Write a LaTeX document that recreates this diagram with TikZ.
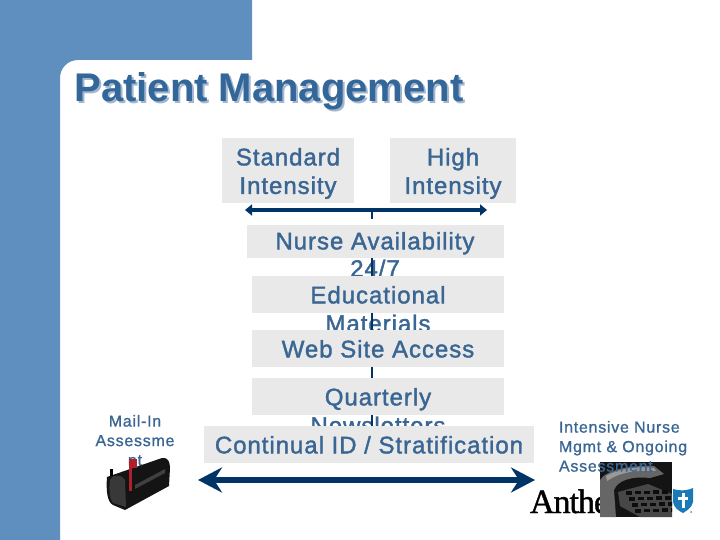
\documentclass[tikz,border=0pt]{standalone}
\usepackage{fontspec}
\usetikzlibrary{arrows.meta}
\setmainfont{Liberation Sans}
\newfontfamily\logofont[FakeBold=1.2,LetterSpace=-3]{Liberation Serif}
\newfontfamily\mainlblfont[FakeBold=1.6,LetterSpace=4]{Liberation Sans}
\newfontfamily\smalllblfont[FakeBold=1,LetterSpace=4.6]{Liberation Sans}
\definecolor{sidebar}{HTML}{5F8FBF}
\definecolor{txtblue}{HTML}{3A6694}
\definecolor{titleblue}{HTML}{336699}
\definecolor{navy}{HTML}{003366}
\definecolor{boxgrey}{HTML}{E9E9E9}
\definecolor{shadowblue}{HTML}{A3B6CE}
\definecolor{shieldblue}{HTML}{1A7AB8}
\definecolor{flagred}{HTML}{B0202A}
\tikzset{
  x=1pt,y=-1pt,
  boxn/.style={fill=boxgrey,inner sep=0pt,outer sep=0pt,anchor=north west},
  lbl/.style={text=txtblue,inner sep=0pt,outer sep=0pt,align=center,anchor=north,font=\mainlblfont\fontsize{24}{28.5}\selectfont},
  smalllbl/.style={text=txtblue,inner sep=0pt,outer sep=0pt,font=\smalllblfont\fontsize{16}{19.5}\selectfont},
  titlelbl/.style={inner sep=0pt,outer sep=0pt,anchor=north west,font=\bfseries\fontsize{40}{44}\selectfont},
  conn/.style={draw=navy,line width=1.6pt},
  thinarrow/.style={draw=navy,line width=3.2pt,{Stealth[length=7pt,width=11pt,inset=0pt]}-{Stealth[length=7pt,width=11pt,inset=0pt]}},
  bigarrow/.style={draw=navy,line width=6pt,{Stealth[length=24pt,width=25pt,inset=8pt]}-{Stealth[length=24pt,width=25pt,inset=8pt]}}
}
\begin{document}
\begin{tikzpicture}
\useasboundingbox (0,0) rectangle (720,540);
\fill[white] (0,0) rectangle (720,540);
% sidebar with rounded inner corner
\fill[sidebar] (0,0) -- (252,0) -- (252,60) -- (78,60) .. controls (68,60) and (60,68) .. (60,78) -- (60,540) -- (0,540) -- cycle;
% title
\node[titlelbl,text=shadowblue] at (76.5,75) {Patient Management};
\node[titlelbl,text=titleblue] (title) at (74.5,73) {Patient Management};
% intensity boxes
\node[boxn,minimum width=132pt,minimum height=65pt] (std) at (222,138) {};
\node[lbl] (stdT) at (288,148) {Standard\\Intensity};
\node[boxn,minimum width=126pt,minimum height=65pt] (high) at (390,138) {};
\node[lbl] (highT) at (453,148) {High\\Intensity};
% thin arrow
\coordinate (thinL) at (245,210);
\coordinate (thinR) at (487,210);
\coordinate (thinM) at (372,210);
\draw[thinarrow] (thinL) -- (thinR);
\coordinate (tickE) at (372,219);
\draw[conn] (thinM) -- (tickE);
% stacked boxes
\node[boxn,minimum width=257pt,minimum height=33pt] (nurse) at (247,225) {};
\node[lbl] (nurseT) at (375,232) {Nurse Availability\\[-1pt]24/7};
\coordinate (a1) at (372,258);
\coordinate (a2) at (372,276);
\draw[conn] (a1) -- (a2);
\node[boxn,minimum width=252pt,minimum height=37pt] (edu) at (252,276) {};
\node[lbl] (eduT) at (378,286) {Educational\\Materials};
\coordinate (b1) at (372,313);
\coordinate (b2) at (372,330);
\draw[conn] (b1) -- (b2);
\node[boxn,minimum width=252pt,minimum height=37pt] (web) at (252,330) {};
\node[lbl] (webT) at (378,340) {Web Site Access};
\coordinate (c1) at (372,367);
\coordinate (c2) at (372,378);
\draw[conn] (c1) -- (c2);
\node[boxn,minimum width=252pt,minimum height=37pt] (qtr) at (252,378) {};
\node[lbl] (qtrT) at (378,388) {Quarterly\\Newsletters};
\coordinate (d1) at (372,415);
\coordinate (d2) at (372,426);
\draw[conn] (d1) -- (d2);
\node[boxn,minimum width=330pt,minimum height=37pt] (cont) at (204,426) {};
\node[lbl] (contT) at (369,436) {Continual ID / Stratification};
% big arrow
\coordinate (bigL) at (198,480);
\coordinate (bigR) at (535,480);
\draw[bigarrow] (bigL) -- (bigR);
% mail-in text
\node[smalllbl,align=center,anchor=north] (mail) at (135,415) {Mail-In\\Assessme\\nt};
% mailbox
\fill[black!92] (107,477) -- (162,458) .. controls (168,457) and (170,462) .. (170,468) -- (169,486) -- (125,510) -- (113,505) .. controls (107,502) and (106,490) .. (107,477) -- cycle;
\fill[black!78] (110,480) .. controls (112,474) and (122,474) .. (125,480) -- (126,507) -- (113,503) .. controls (109,498) and (109,488) .. (110,480) -- cycle;
\fill[black!75] (135,485) -- (165,469) -- (165,473) -- (135,489) -- cycle;
\fill[black] (110,469) rectangle (113,476);
\fill[flagred] (129,462) rectangle (132,491);
\fill[flagred] (129,459) rectangle (137,468);
% Anthem and phone
\node[inner sep=0pt,outer sep=0pt,anchor=base west,font=\logofont\fontsize{34}{34}\selectfont,text=black] (anthem) at (530,513) {Anthem};
\begin{scope}
\clip (600,462) rectangle (672,517);
\fill[black!92] (600,462) rectangle (672,517);
\fill[black!60] (600,480) .. controls (606,470) and (630,465) .. (654,466) -- (664,474) -- (650,478) .. controls (632,476) and (618,480) .. (614,490) -- (616,517) -- (600,517) -- cycle;
\fill[black!40] (606,476) .. controls (620,468) and (640,466) .. (654,468) -- (656,471) .. controls (636,470) and (620,472) .. (607,481) -- cycle;
\fill[black!72] (618,492) -- (648,484) -- (672,494) -- (672,517) -- (640,517) -- (620,506) -- cycle;
\foreach \r in {0,...,3}{\foreach \c in {0,...,4}{
  \fill[black!95] ({626+\c*9+\r*3},{491+\r*6-\c*0.2}) rectangle +(6,3.5);
}}
\end{scope}
% shield
\fill[shieldblue] (673,489) .. controls (680,491) and (686,491) .. (693,488) -- (693,502) .. controls (692,508) and (686,511) .. (683,513) .. controls (679,511) and (674,508) .. (673,502) -- cycle;
\fill[white] (681.5,493) rectangle (684.5,508);
\fill[white] (678,497) rectangle (688,500);
\fill[gray] (691,512) circle (1);
% intensive text
\node[smalllbl,align=left,anchor=north west] (intensive) at (559,421) {Intensive Nurse\\Mgmt \& Ongoing\\Assessment};
\end{tikzpicture}
\end{document}
